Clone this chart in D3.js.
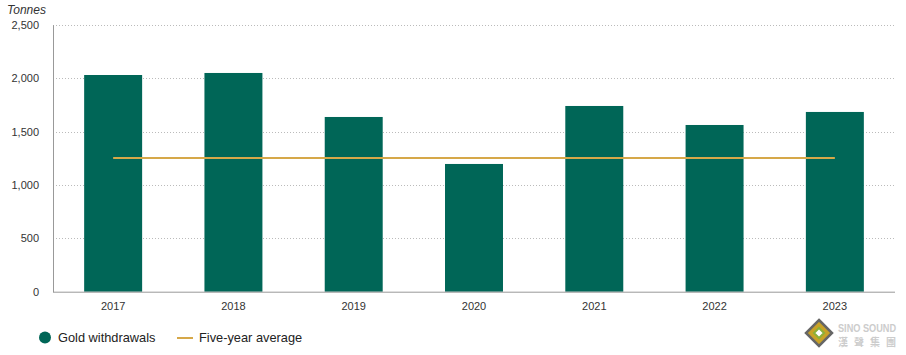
<!DOCTYPE html>
<html><head><meta charset="utf-8">
<script src="https://cdn.jsdelivr.net/npm/d3@7"></script>
<style>
body{margin:0;background:#fff;}
svg{display:block;font-family:"Liberation Sans",Arial,sans-serif;}
</style></head>
<body><svg id="c" width="906" height="355"></svg>
<script>
const years = ["2017","2018","2019","2020","2021","2022","2023"];
const withdrawals = [2029, 2048, 1636, 1196, 1739, 1561, 1683];
const fiveYearAvg = [1252, 1252];
const yTicks = [0, 500, 1000, 1500, 2000, 2500];

(function(){
const svg = d3.select("#c");
const pL = 53, pR = 895, pT = 24.7, pB = 291.7;
const x = d3.scaleBand().domain(years).range([pL, pR]).paddingInner(0.518).paddingOuter(0.259);
const y = d3.scaleLinear().domain([0, 2500]).range([pB, pT]);

// grid
svg.append("g").selectAll("line").data(yTicks.filter(d => d > 0)).join("line")
  .attr("x1", pL).attr("x2", pR - 1)
  .attr("y1", d => Math.round(y(d)) + 0.5).attr("y2", d => Math.round(y(d)) + 0.5)
  .attr("stroke", "#bbb").attr("stroke-dasharray", "1,2");

// bars
svg.append("g").selectAll("rect").data(years).join("rect")
  .attr("x", d => x(d)).attr("width", x.bandwidth())
  .attr("y", (d, i) => y(withdrawals[i])).attr("height", (d, i) => pB - y(withdrawals[i]))
  .attr("fill", "#006657");

// average line
const cx0 = x(years[0]) + x.bandwidth() / 2, cx1 = x(years[years.length - 1]) + x.bandwidth() / 2;
svg.append("line").attr("x1", cx0).attr("x2", cx1)
  .attr("y1", y(fiveYearAvg[0])).attr("y2", y(fiveYearAvg[1]))
  .attr("stroke", "#D6A849").attr("stroke-width", 2);

// axes
const yAxis = svg.append("g").attr("transform", `translate(${pL},0)`)
  .call(d3.axisLeft(y).tickValues(yTicks).tickSize(0).tickPadding(14).tickFormat(d3.format(",")));
yAxis.select(".domain").attr("stroke", "#999");
yAxis.selectAll("text").attr("fill", "#333").attr("font-size", "11px");

const xAxis = svg.append("g").attr("transform", `translate(0,${pB})`)
  .call(d3.axisBottom(x).tickSize(0).tickPadding(11));
xAxis.select(".domain").attr("stroke", "#999").attr("d", `M${pL},0.5H${pR}`);
xAxis.selectAll("text").attr("fill", "#333").attr("font-size", "11px");

svg.append("text").attr("x", 7).attr("y", 14).text("Tonnes")
  .attr("font-style", "italic").attr("font-size", "12px").attr("fill", "#333");

// legend
svg.append("circle").attr("cx", 45).attr("cy", 337.5).attr("r", 6).attr("fill", "#006657");
svg.append("text").attr("x", 58).attr("y", 342).text("Gold withdrawals")
  .attr("font-size", "12.8px").attr("fill", "#222");
svg.append("line").attr("x1", 177).attr("x2", 193).attr("y1", 338).attr("y2", 338)
  .attr("stroke", "#D6A849").attr("stroke-width", 2);
svg.append("text").attr("x", 199).attr("y", 342).text("Five-year average")
  .attr("font-size", "12.8px").attr("fill", "#222");

// watermark
const wm = svg.append("g").attr("transform", "translate(819,333)");
wm.append("path").attr("d", "M0,-13L13,0L0,13L-13,0Z").attr("fill", "#c9a227").attr("stroke", "#666").attr("stroke-width", 2.5);
wm.append("path").attr("d", "M0,-5L5,0L0,5L-5,0Z").attr("fill", "#fff").attr("stroke", "#8bb03a").attr("stroke-width", 2);
wm.append("text").attr("x", 19).attr("y", -1).text("SINO SOUND").attr("font-size", "10px").attr("font-weight", "bold")
  .attr("textLength", 58).attr("lengthAdjust", "spacingAndGlyphs").attr("fill", "#ccc");
wm.append("text").attr("x", 19).attr("y", 13).text("漢 聲 集 團").attr("font-family", "Noto Sans CJK TC").attr("font-size", "10px").attr("font-weight", "bold")
  .attr("textLength", 58).attr("lengthAdjust", "spacing").attr("fill", "#ccc");
})();
</script></body></html>
